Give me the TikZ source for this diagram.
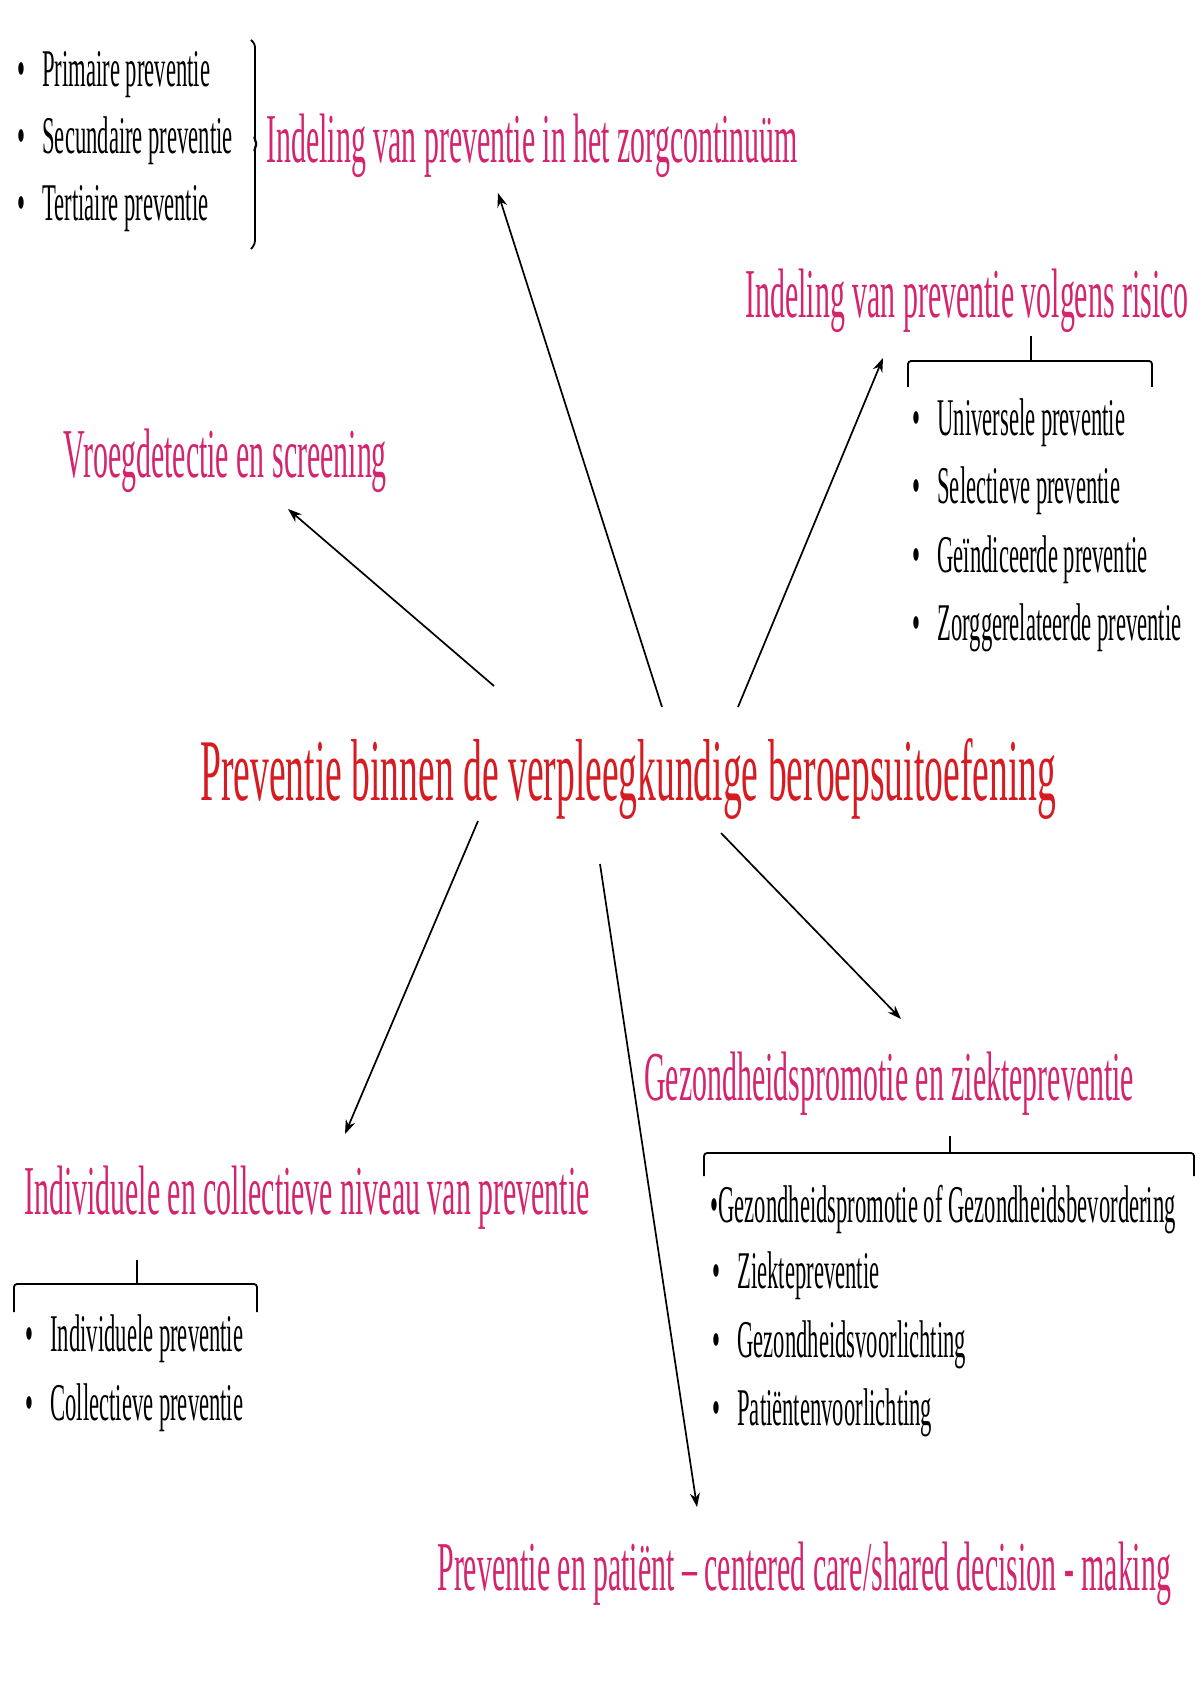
\documentclass[tikz,border=0pt]{standalone}
\usepackage{fontspec}
\setmainfont{Liberation Serif}
\newfontfamily\cf[FakeStretch=0.427]{Liberation Serif}
\usetikzlibrary{arrows.meta}
\definecolor{pinkc}{RGB}{212,36,110}
\definecolor{redc}{RGB}{214,28,34}
\tikzset{
  headtxt/.style={font=\cf\fontsize{35}{40}\selectfont, text=pinkc, inner sep=0pt, anchor=base west},
  maintxt/.style={font=\cf\fontsize{44}{50}\selectfont, text=redc, inner sep=0pt, anchor=base west},
  itemtxt/.style={font=\cf\fontsize{26.5}{30}\selectfont, text=black, inner sep=0pt, anchor=base west},
  arr/.style={draw=black, line width=0.85pt, -{Stealth[length=7pt,width=5pt]}},
  brk/.style={draw=black, line width=0.9pt, rounded corners=1.5pt}
}
\newcommand{\bul}[1]{\makebox[12.5pt][l]{•}#1}
\begin{document}
\begin{tikzpicture}[x=0.5pt,y=-0.5pt]
\useasboundingbox[fill=white] (0,0) rectangle (1200,1700);

% centre
\node[maintxt] (main) at (200,800) {Preventie binnen de verpleegkundige beroepsuitoefening};

% top-left
\node[itemtxt] (p1) at (17,87) {\bul{Primaire preventie}};
\node[itemtxt] (p2) at (17,154) {\bul{Secundaire preventie}};
\node[itemtxt] (p3) at (17,221) {\bul{Tertiaire preventie}};
\draw[brk] (251,40) -- (255,44) -- (255,141) -- (257,144) -- (255,147) -- (255,244) -- (251,249);
\node[headtxt] (h1) at (266,163) {Indeling van preventie in het zorgcontinuüm};

% risico
\node[headtxt] (h2) at (745,318) {Indeling van preventie volgens risico};
\draw[brk] (908,387) -- (908,361) -- (1152,361) -- (1152,387);
\draw[brk] (1031,361) -- (1031,336);
\node[itemtxt] (r1) at (912,436) {\bul{Universele preventie}};
\node[itemtxt] (r2) at (912,503) {\bul{Selectieve preventie}};
\node[itemtxt] (r3) at (912,572) {\bul{Geïndiceerde preventie}};
\node[itemtxt] (r4) at (912,640) {\bul{Zorggerelateerde preventie}};

% vroegdetectie
\node[headtxt] (h3) at (63,477) {Vroegdetectie en screening};

% gezondheidspromotie
\node[headtxt] (h4) at (644,1100) {Gezondheidspromotie en ziektepreventie};
\draw[brk] (704,1176) -- (704,1153) -- (1194,1153) -- (1194,1176);
\draw[brk] (950,1153) -- (950,1136);
\node[itemtxt] (g1) at (710,1222) {•Gezondheidspromotie of Gezondheidsbevordering};
\node[itemtxt] (g2) at (712,1288) {\bul{Ziektepreventie}};
\node[itemtxt] (g3) at (712,1357) {\bul{Gezondheidsvoorlichting}};
\node[itemtxt] (g4) at (712,1425) {\bul{Patiëntenvoorlichting}};

% individuele
\node[headtxt] (h5) at (24,1214) {Individuele en collectieve niveau van preventie};
\draw[brk] (14,1312) -- (14,1284) -- (257,1284) -- (257,1312);
\draw[brk] (137,1284) -- (137,1260);
\node[itemtxt] (i1) at (25,1351) {\bul{Individuele preventie}};
\node[itemtxt] (i2) at (25,1420) {\bul{Collectieve preventie}};

% bottom
\node[headtxt] (h6) at (437,1590) {Preventie en patiënt – centered care/shared decision - making};

% arrows
\coordinate (a1s) at (662,707); \coordinate (a1e) at (498,193);
\coordinate (a2s) at (738,707); \coordinate (a2e) at (883,358);
\coordinate (a3s) at (494,686); \coordinate (a3e) at (288,509);
\coordinate (a4s) at (478,821); \coordinate (a4e) at (345,1134);
\coordinate (a5s) at (600,864); \coordinate (a5e) at (697,1507);
\coordinate (a6s) at (721,833); \coordinate (a6e) at (901,1019);
\draw[arr] (a1s) -- (a1e);
\draw[arr] (a2s) -- (a2e);
\draw[arr] (a3s) -- (a3e);
\draw[arr] (a4s) -- (a4e);
\draw[arr] (a5s) -- (a5e);
\draw[arr] (a6s) -- (a6e);
\end{tikzpicture}
\end{document}
